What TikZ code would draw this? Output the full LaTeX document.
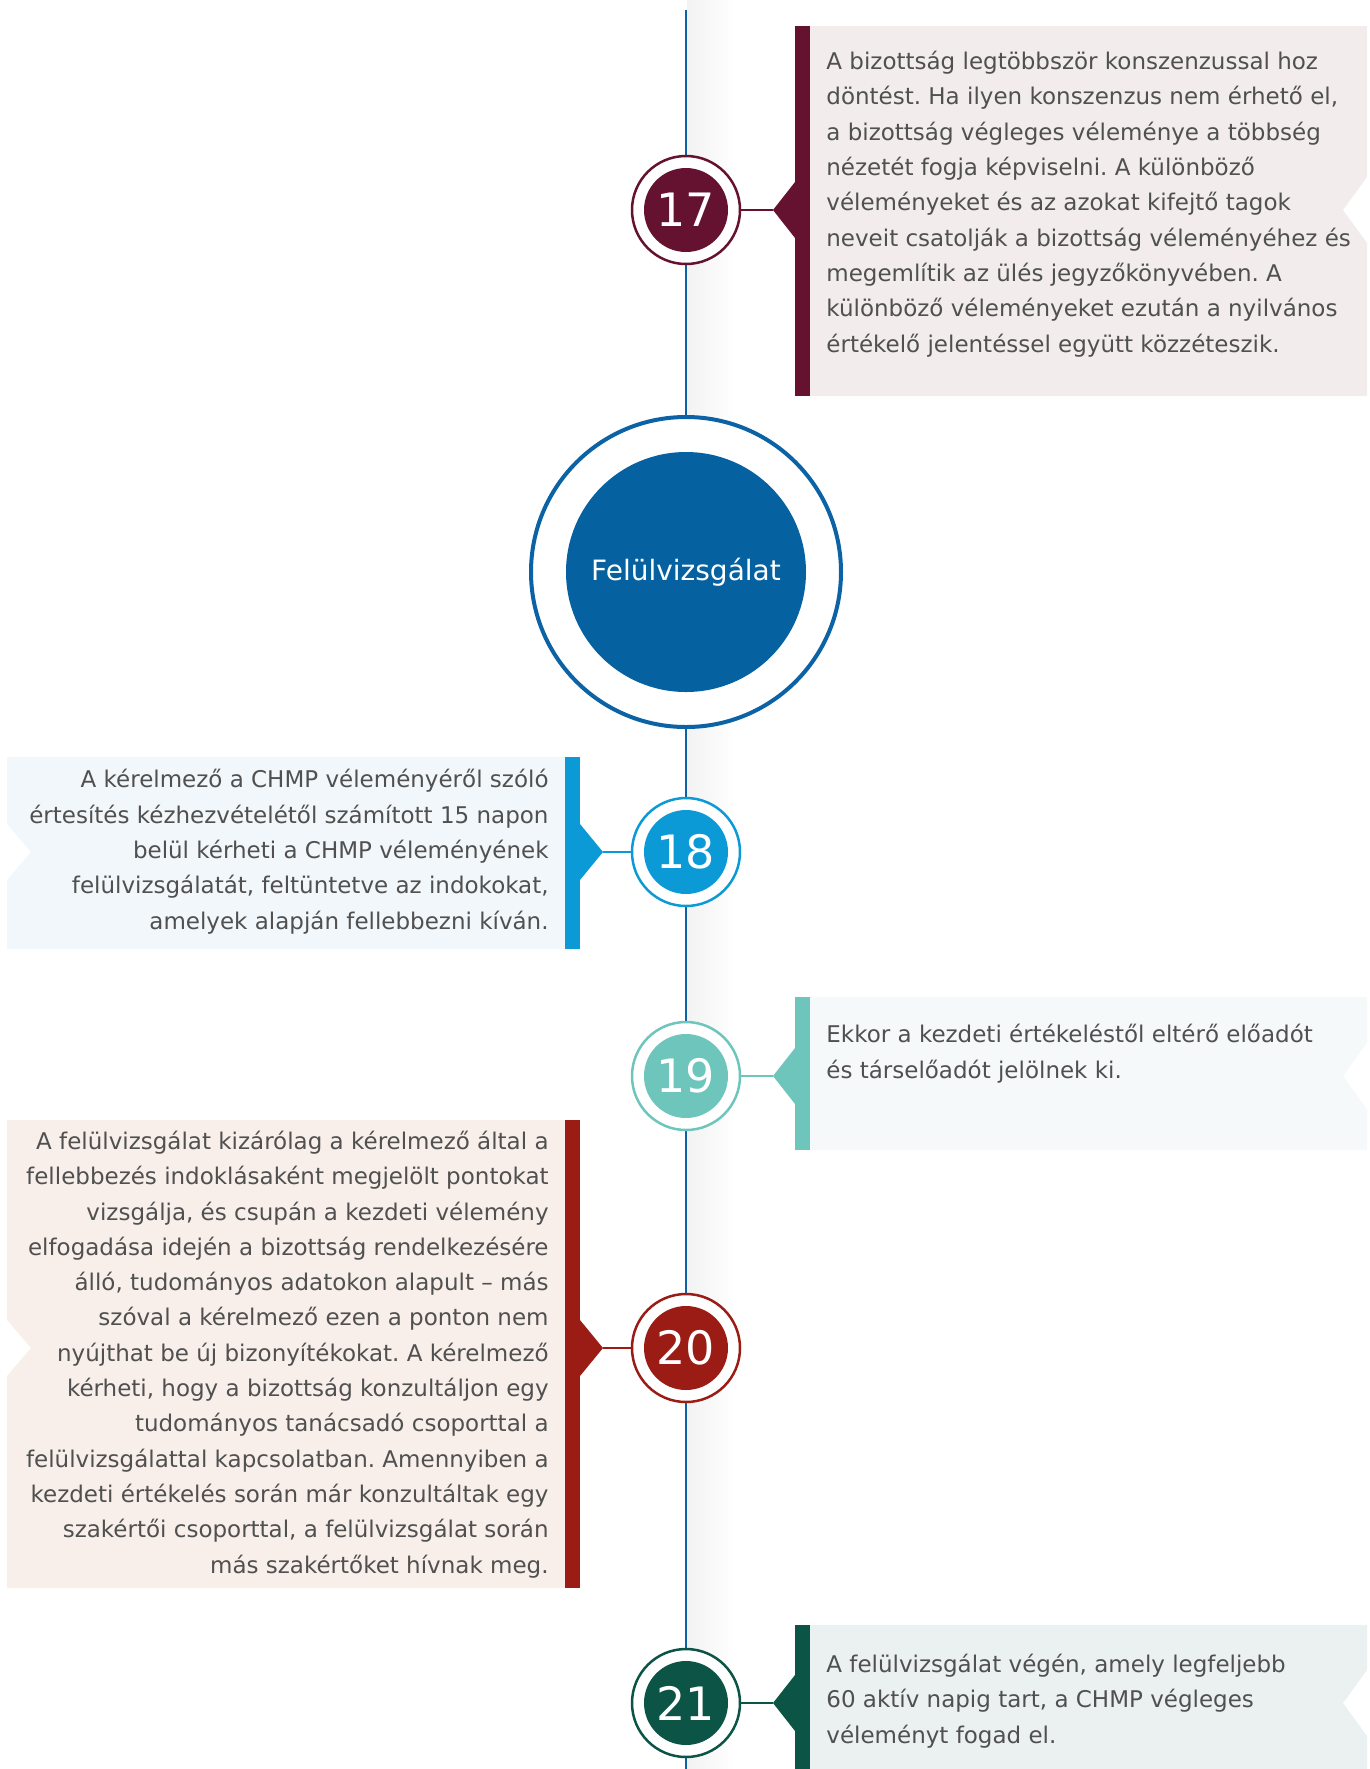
\documentclass[tikz,border=0pt]{standalone}
\usepackage{fontspec}
\setmainfont{DejaVu Sans}
\usetikzlibrary{positioning}
\frenchspacing

\definecolor{linblue}{HTML}{0B62A4}
\definecolor{revblue}{HTML}{0561A0}
\definecolor{textgray}{HTML}{505050}
\definecolor{c17}{HTML}{64122F}
\definecolor{f17}{HTML}{F2ECEC}
\definecolor{c18}{HTML}{0C9AD7}
\definecolor{f18}{HTML}{F2F7FB}
\definecolor{c19}{HTML}{6DC5BC}
\definecolor{f19}{HTML}{F6F9FA}
\definecolor{c20}{HTML}{9B1C15}
\definecolor{f20}{HTML}{F8EFEA}
\definecolor{c21}{HTML}{0B5446}
\definecolor{f21}{HTML}{EBF0F0}

\newcommand{\bodyfont}{\fontsize{11.5}{17.65}\selectfont}
\newcommand{\numfont}{\fontsize{23}{23}\selectfont}

\tikzset{
	ring/.style = {circle, draw = #1, line width = 1.25pt, fill = white, minimum size = 54pt, inner sep = 0pt},
	disk/.style = {circle, fill = #1, minimum size = 42pt, inner sep = 0pt, text = white, font = \numfont},
	bodytext/.style = {text = textgray, font = \bodyfont, inner sep = 0pt},
}

\begin{document}
\begin{tikzpicture}[x = 0.5pt, y = -0.5pt]

\useasboundingbox (0, 0) rectangle (1370, 1769);
\clip (0, 0) rectangle (1370, 1769);

% time line with its shadow
\shade[left color = black!5, right color = white] (687, 0) rectangle (735, 1769);
\coordinate (line top) at (686, 10);
\coordinate (line end) at (686, 1769);
\draw[linblue, line width = 1.25pt] (line top) -- (line end);

% boxes on the right
\foreach \n/\ya/\yb/\cy in {17/26/396/210, 19/997/1150/1076, 21/1625/1800/1703} {
	\fill[f\n] (810, \ya) -- (1367, \ya) -- (1367, \cy - 33) -- (1343, \cy) -- (1367, \cy + 33)
		-- (1367, \yb) -- (810, \yb) -- cycle;
	\fill[c\n] (795, \ya) rectangle (810, \yb);
	\fill[c\n] (795, \cy - 28) -- (773, \cy) -- (795, \cy + 28) -- cycle;
	\coordinate (p\n) at (773, \cy);
	\node[ring = c\n] (c\n) at (686, \cy) {};
	\node[disk = c\n] (n\n) at (c\n) {\n};
	\draw[c\n, line width = 1pt] (c\n) -- (p\n);
}

% boxes on the left
\foreach \n/\ya/\yb/\cy in {18/757/949/852, 20/1120/1588/1348} {
	\fill[f\n] (565, \ya) -- (7, \ya) -- (7, \cy - 28) -- (31, \cy) -- (7, \cy + 28)
		-- (7, \yb) -- (565, \yb) -- cycle;
	\fill[c\n] (565, \ya) rectangle (580, \yb);
	\fill[c\n] (580, \cy - 28) -- (603, \cy) -- (580, \cy + 28) -- cycle;
	\coordinate (p\n) at (603, \cy);
	\node[ring = c\n] (c\n) at (686, \cy) {};
	\node[disk = c\n] (n\n) at (c\n) {\n};
	\draw[c\n, line width = 1pt] (c\n) -- (p\n);
}

% review
\node[circle, draw = linblue, line width = 2pt, fill = white, minimum size = 155pt, inner sep = 0pt] (rev ring) at (686, 572) {};
\node[circle, fill = revblue, minimum size = 120pt, text = white, font = \fontsize{14}{16}\selectfont] (rev) at (rev ring) {Felülvizsgálat};

% texts, placed at the base line of their last line
\node[bodytext, anchor = base west, align = left] (t17) at (826, 352) {A bizottság legtöbbször konszenzussal hoz\\
döntést. Ha ilyen konszenzus nem érhető el,\\
a bizottság végleges véleménye a többség\\
nézetét fogja képviselni. A különböző\\
véleményeket és az azokat kifejtő tagok\\
neveit csatolják a bizottság véleményéhez és\\
megemlítik az ülés jegyzőkönyvében. A\\
különböző véleményeket ezután a nyilvános\\
értékelő jelentéssel együtt közzéteszik.};

\node[bodytext, anchor = base east, align = right] (t18) at (549, 929) {A kérelmező a CHMP véleményéről szóló\\
értesítés kézhezvételétől számított 15 napon\\
belül kérheti a CHMP véleményének\\
felülvizsgálatát, feltüntetve az indokokat,\\
amelyek alapján fellebbezni kíván.};

\node[bodytext, anchor = base west, align = left] (t19) at (826, 1078) {Ekkor a kezdeti értékeléstől eltérő előadót\\
és társelőadót jelölnek ki.};

\node[bodytext, anchor = base east, align = right] (t20) at (549, 1573) {A felülvizsgálat kizárólag a kérelmező által a\\
fellebbezés indoklásaként megjelölt pontokat\\
vizsgálja, és csupán a kezdeti vélemény\\
elfogadása idején a bizottság rendelkezésére\\
álló, tudományos adatokon alapult – más\\
szóval a kérelmező ezen a ponton nem\\
nyújthat be új bizonyítékokat. A kérelmező\\
kérheti, hogy a bizottság konzultáljon egy\\
tudományos tanácsadó csoporttal a\\
felülvizsgálattal kapcsolatban. Amennyiben a\\
kezdeti értékelés során már konzultáltak egy\\
szakértői csoporttal, a felülvizsgálat során\\
más szakértőket hívnak meg.};

\node[bodytext, anchor = base west, align = left] (t21) at (826, 1743) {A felülvizsgálat végén, amely legfeljebb\\
60 aktív napig tart, a CHMP végleges\\
véleményt fogad el.};

\end{tikzpicture}
\end{document}
